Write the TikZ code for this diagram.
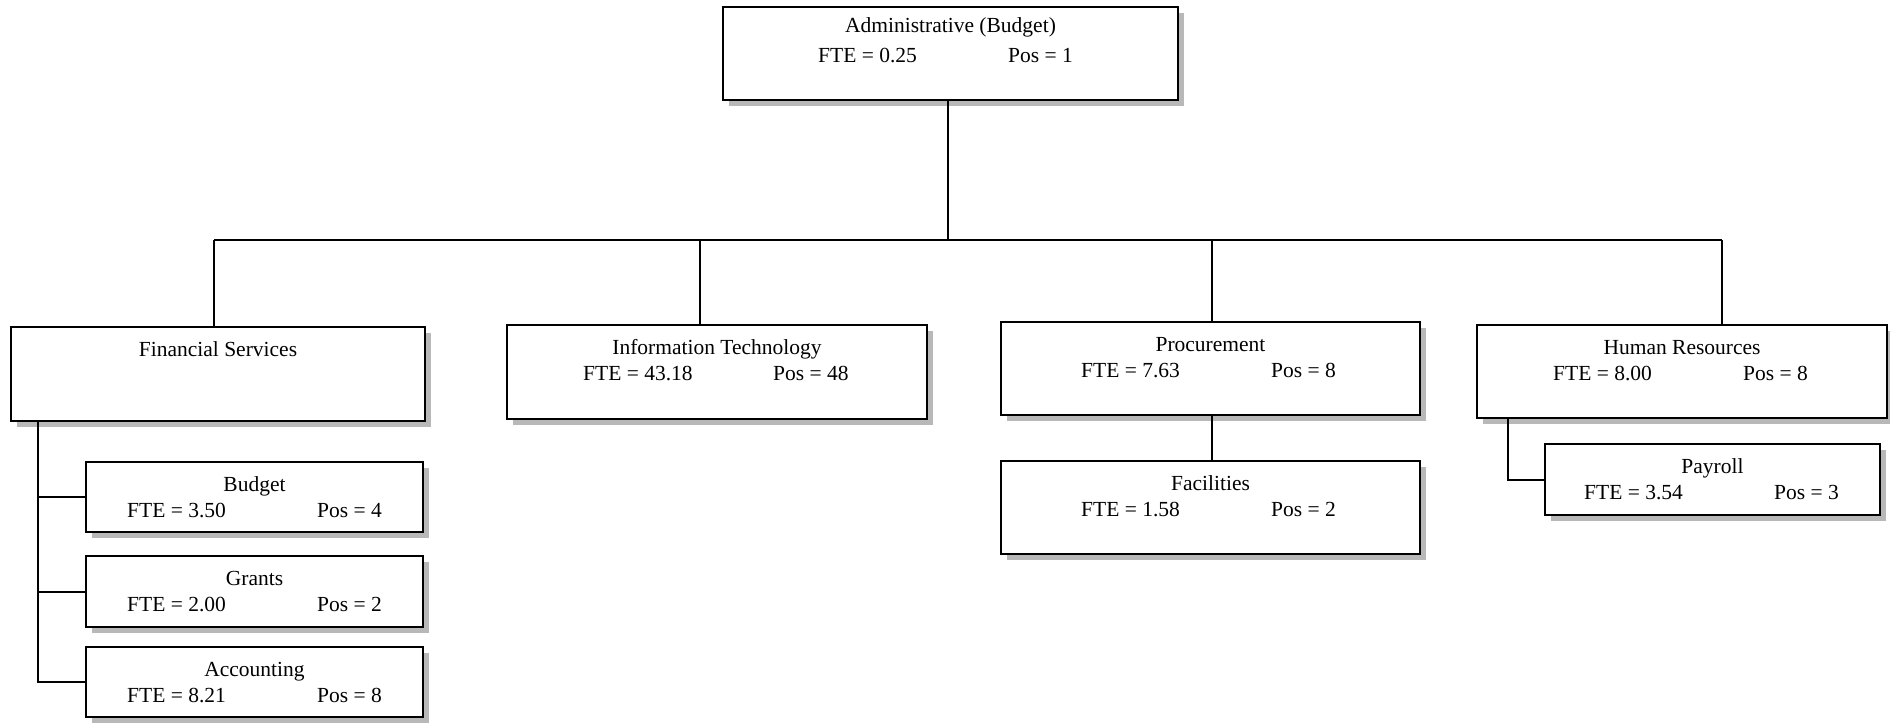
\documentclass[tikz,border=0pt]{standalone}
\usepackage{fontspec}
\setmainfont{Liberation Serif}
\usetikzlibrary{shadows}
\tikzset{
  orgbox/.style={draw=black, line width=2pt, fill=white, rectangle, anchor=north west, inner sep=0pt,
    drop shadow={shadow xshift=6pt, shadow yshift=-6pt, fill=black!28, opacity=1}},
  txt/.style={inner sep=0pt, font=\fontsize{21.5}{25}\selectfont},
  conn/.style={draw=black, line width=2pt}
}
\newcommand\unittitle[3][30]{\node[txt, anchor=base] (#2-t) at ([yshift=-#1pt]#2.north) {#3};}
\newcommand\unitfte[4]{%
  \node[txt, anchor=base west] (#1-f) at ([xshift=#2pt, yshift=-56pt]#1.north west) {FTE = #3};
  \node[txt, anchor=base west] (#1-p) at ([xshift=#2pt+190pt, yshift=-56pt]#1.north west) {Pos = #4};}
\begin{document}
\begin{tikzpicture}[x=1pt, y=-1pt]
\useasboundingbox (0,0) rectangle (1890,723);

% boxes
\node[orgbox, minimum width=455pt, minimum height=93pt] (Top) at (722,6) {};
\node[orgbox, minimum width=414pt, minimum height=94pt] (FS) at (10,326) {};
\node[orgbox, minimum width=420pt, minimum height=94pt] (IT) at (506,324) {};
\node[orgbox, minimum width=419pt, minimum height=93pt] (Proc) at (1000,321) {};
\node[orgbox, minimum width=410pt, minimum height=93pt] (HR) at (1476,324) {};
\node[orgbox, minimum width=419pt, minimum height=93pt] (Fac) at (1000,460) {};
\node[orgbox, minimum width=335pt, minimum height=71pt] (Pay) at (1544,443) {};
\node[orgbox, minimum width=337pt, minimum height=70pt] (Bud) at (85,461) {};
\node[orgbox, minimum width=337pt, minimum height=71pt] (Gra) at (85,555) {};
\node[orgbox, minimum width=337pt, minimum height=70pt] (Acc) at (85,646) {};

% texts
\unittitle[26]{Top}{Administrative (Budget)}
\unitfte{Top}{96}{0.25}{1}
\unittitle{FS}{Financial Services}
\unittitle{IT}{Information Technology}
\unitfte{IT}{77}{43.18}{48}
\unittitle{Proc}{Procurement}
\unitfte{Proc}{81}{7.63}{8}
\unittitle{HR}{Human Resources}
\unitfte{HR}{77}{8.00}{8}
\unittitle{Fac}{Facilities}
\unitfte{Fac}{81}{1.58}{2}
\unittitle{Pay}{Payroll}
\unitfte{Pay}{40}{3.54}{3}
\unittitle{Bud}{Budget}
\unitfte{Bud}{42}{3.50}{4}
\unittitle{Gra}{Grants}
\unitfte{Gra}{42}{2.00}{2}
\unittitle{Acc}{Accounting}
\unitfte{Acc}{42}{8.21}{8}

% connectors
\coordinate (busFS) at (214,240);
\coordinate (busTop) at (948,240);
\coordinate (busIT) at (700,240);
\coordinate (busPr) at (1212,240);
\coordinate (busHR) at (1722,240);
\draw[conn] (busFS) -- (busHR);
\draw[conn] (busTop |- Top.south) -- (busTop);
\draw[conn] (busFS) -- (busFS |- FS.north);
\draw[conn] (busIT) -- (busIT |- IT.north);
\draw[conn] (busPr) -- (busPr |- Proc.north);
\draw[conn] (busHR) -- (busHR |- HR.north);
\draw[conn] (busPr |- Proc.south) -- (busPr |- Fac.north);
\coordinate (hrT) at (1508,417);
\draw[conn] (hrT) |- (Pay.west);
\coordinate (fsT) at (38,420);
\draw[conn] (fsT) |- (Acc.west);
\draw[conn] (fsT |- Bud.west) -- (Bud.west);
\draw[conn] (fsT |- Gra.west) -- (Gra.west);
\end{tikzpicture}
\end{document}
